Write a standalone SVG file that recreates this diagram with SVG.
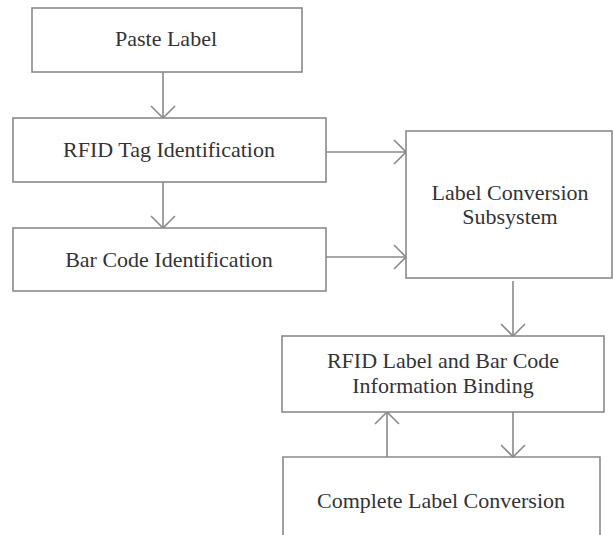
<svg xmlns="http://www.w3.org/2000/svg" width="613" height="535" viewBox="0 0 613 535">
<defs>
<style>
.box{fill:#fff;stroke:#8a8a8a;stroke-width:1.6}
.ln{fill:none;stroke:#8a8a8a;stroke-width:1.6}
.t{font-family:'Liberation Serif','Times New Roman',serif;font-size:22px;fill:#333;text-anchor:middle}
</style>
<marker id="arr" viewBox="0 0 14 26" refX="13" refY="13" markerWidth="14" markerHeight="26" markerUnits="userSpaceOnUse" orient="auto">
<path d="M1,1 L13,13 L1,25" fill="none" stroke="#8a8a8a" stroke-width="1.6"/>
</marker>
</defs>
<rect width="613" height="535" fill="#fff"/>
<g id="connectors">
<line class="ln" x1="163" y1="72" x2="163" y2="118" marker-end="url(#arr)"/>
<line class="ln" x1="163" y1="182" x2="163" y2="228" marker-end="url(#arr)"/>
<line class="ln" x1="326" y1="152" x2="406" y2="152" marker-end="url(#arr)"/>
<line class="ln" x1="326" y1="257" x2="406" y2="257" marker-end="url(#arr)"/>
<line class="ln" x1="513" y1="281" x2="513" y2="336" marker-end="url(#arr)"/>
<line class="ln" x1="513" y1="412" x2="513" y2="457" marker-end="url(#arr)"/>
<line class="ln" x1="387" y1="457" x2="387" y2="412" marker-end="url(#arr)"/>
</g>
<g id="paste-label">
<rect class="box" x="32" y="8" width="270" height="64"/>
<text class="t" x="166" y="46">Paste Label</text>
</g>
<g id="rfid-tag">
<rect class="box" x="13" y="118" width="313" height="64"/>
<text class="t" x="169" y="157">RFID Tag Identification</text>
</g>
<g id="bar-code">
<rect class="box" x="13" y="228" width="313" height="63"/>
<text class="t" x="169" y="267">Bar Code Identification</text>
</g>
<g id="label-conversion">
<rect class="box" x="406" y="131" width="206" height="147"/>
<text class="t" x="510" y="200">Label Conversion</text>
<text class="t" x="510" y="224">Subsystem</text>
</g>
<g id="binding">
<rect class="box" x="282" y="336" width="322" height="76"/>
<text class="t" x="443" y="368">RFID Label and Bar Code</text>
<text class="t" x="443" y="393">Information Binding</text>
</g>
<g id="complete">
<path class="ln" d="M283,540 L283,457 L600,457 L600,540"/>
<text class="t" x="441" y="508">Complete Label Conversion</text>
</g>
</svg>
